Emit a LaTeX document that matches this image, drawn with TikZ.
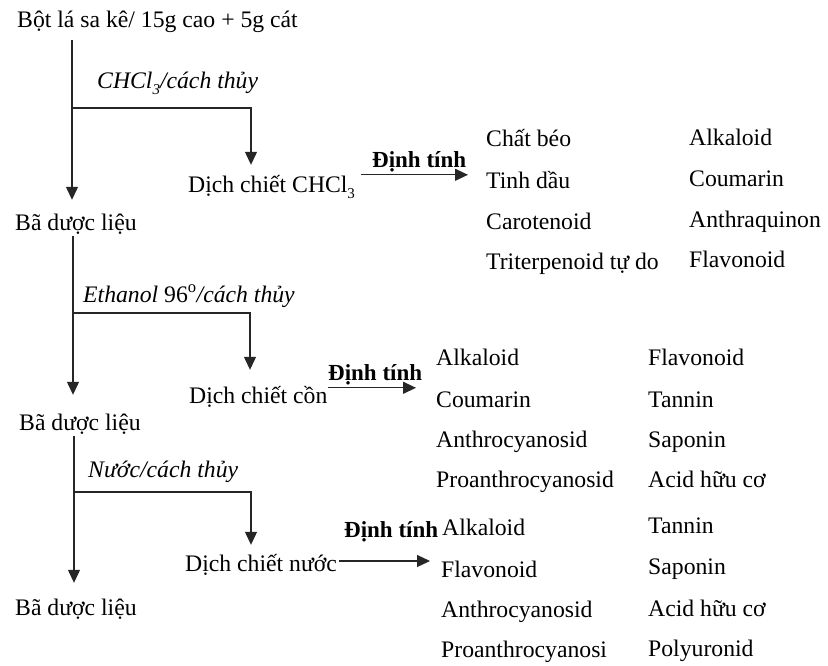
\documentclass[tikz,border=0pt]{standalone}
\usepackage{fontspec}
\setmainfont{Liberation Serif}
\usetikzlibrary{arrows.meta}
\newcommand{\lowsub}[1]{\raisebox{-6pt}{\fontsize{15}{15}\selectfont #1}}
\begin{document}
\begin{tikzpicture}[x=1pt,y=-1pt,
  txt/.style={anchor=base west, inner sep=0pt, text height=17pt, text depth=5pt, font=\fontsize{23.7}{28}\selectfont},
  lbl/.style={txt, font=\fontsize{23.7}{28}\selectfont\itshape},
  bold/.style={txt, font=\fontsize{23}{28}\selectfont\bfseries},
  ln/.style={draw=black!85, line width=1.2pt},
  arr/.style={ln, -{Triangle[width=12pt,length=13pt]}}]
\useasboundingbox (0,0) rectangle (828,665);

% ---------- stage 1 ----------
\node[txt] (top) at (17,27) {Bột lá sa kê/ 15g cao + 5g cát};
\node[lbl] (l1) at (97,88) {CHCl\lowsub{3}/cách thủy};
\node[txt] (d1) at (188,192) {Dịch chiết CHCl\lowsub{3}};
\node[txt] (b1) at (15,230) {Bã dược liệu};
\node[bold] (q1) at (372,167) {Định tính};
\node[txt] (c11) at (486,146) {Chất béo};
\node[txt] (c12) at (486,188) {Tinh dầu};
\node[txt] (c13) at (486,229) {Carotenoid};
\node[txt] (c14) at (486,269) {Triterpenoid tự do};
\node[txt] (c15) at (689,145) {Alkaloid};
\node[txt] (c16) at (689,186) {Coumarin};
\node[txt] (c17) at (689,227) {Anthraquinon};
\node[txt] (c18) at (689,267) {Flavonoid};
\coordinate (j1) at (72,108);

\draw[arr, shorten <=8pt, shorten >=13pt] (top.south -| j1) -- (b1.north -| j1);
\draw[arr, shorten >=10pt] (j1) -| ([xshift=63pt]d1.north west);
\draw[arr] ([xshift=6pt]d1.north east) -- ([xshift=-18pt]c12.west |- d1.north east);

% ---------- stage 2 ----------
\node[lbl] (l2) at (83,302) {Ethanol \upshape 96\textsuperscript{o}\itshape/cách thủy};
\node[txt] (d2) at (189,403) {Dịch chiết cồn};
\node[txt] (b2) at (19,430) {Bã dược liệu};
\node[bold] (q2) at (328,380) {Định tính};
\node[txt] (c21) at (436,365) {Alkaloid};
\node[txt] (c22) at (436,407) {Coumarin};
\node[txt] (c23) at (436,447) {Anthrocyanosid};
\node[txt] (c24) at (436,487) {Proanthrocyanosid};
\node[txt] (c25) at (648,365) {Flavonoid};
\node[txt] (c26) at (648,407) {Tannin};
\node[txt] (c27) at (648,447) {Saponin};
\node[txt] (c28) at (648,487) {Acid hữu cơ};
\coordinate (j2) at (73,313);

\draw[arr, shorten <=1pt, shorten >=18pt] (b1.south -| j2) -- (b2.north -| j2);
\draw[arr, shorten >=16pt] (j2) -| ([xshift=61pt]d2.north west);
\coordinate (s2) at ([yshift=-2pt]d2.north east);
\draw[arr] (s2) -- ([xshift=-20pt]c22.west |- s2);

% ---------- stage 3 ----------
\node[lbl] (l3) at (88,477) {Nước/cách thủy};
\node[txt] (d3) at (185,571) {Dịch chiết nước};
\node[txt] (b3) at (15,615) {Bã dược liệu};
\node[bold] (q3) at (344,537) {Định tính};
\node[txt] (c31) at (442,535) {Alkaloid};
\node[txt] (c32) at (441,577) {Flavonoid};
\node[txt] (c33) at (441,617) {Anthrocyanosid};
\node[txt] (c34) at (441,657) {Proanthrocyanosi};
\node[txt] (c35) at (648,533) {Tannin};
\node[txt] (c36) at (648,574) {Saponin};
\node[txt] (c37) at (648,616) {Acid hữu cơ};
\node[txt] (c38) at (648,656) {Polyuronid};
\coordinate (j3) at (74,492);

\draw[arr, shorten <=1pt, shorten >=15pt] (b2.south -| j3) -- (b3.north -| j3);
\draw[arr, shorten >=9pt] (j3) -| ([xshift=66pt]d3.north west);
\coordinate (s3) at ([xshift=2pt,yshift=4pt]d3.east);
\draw[arr] (s3) -- ([xshift=-11pt]c32.west |- s3);
\end{tikzpicture}
\end{document}
